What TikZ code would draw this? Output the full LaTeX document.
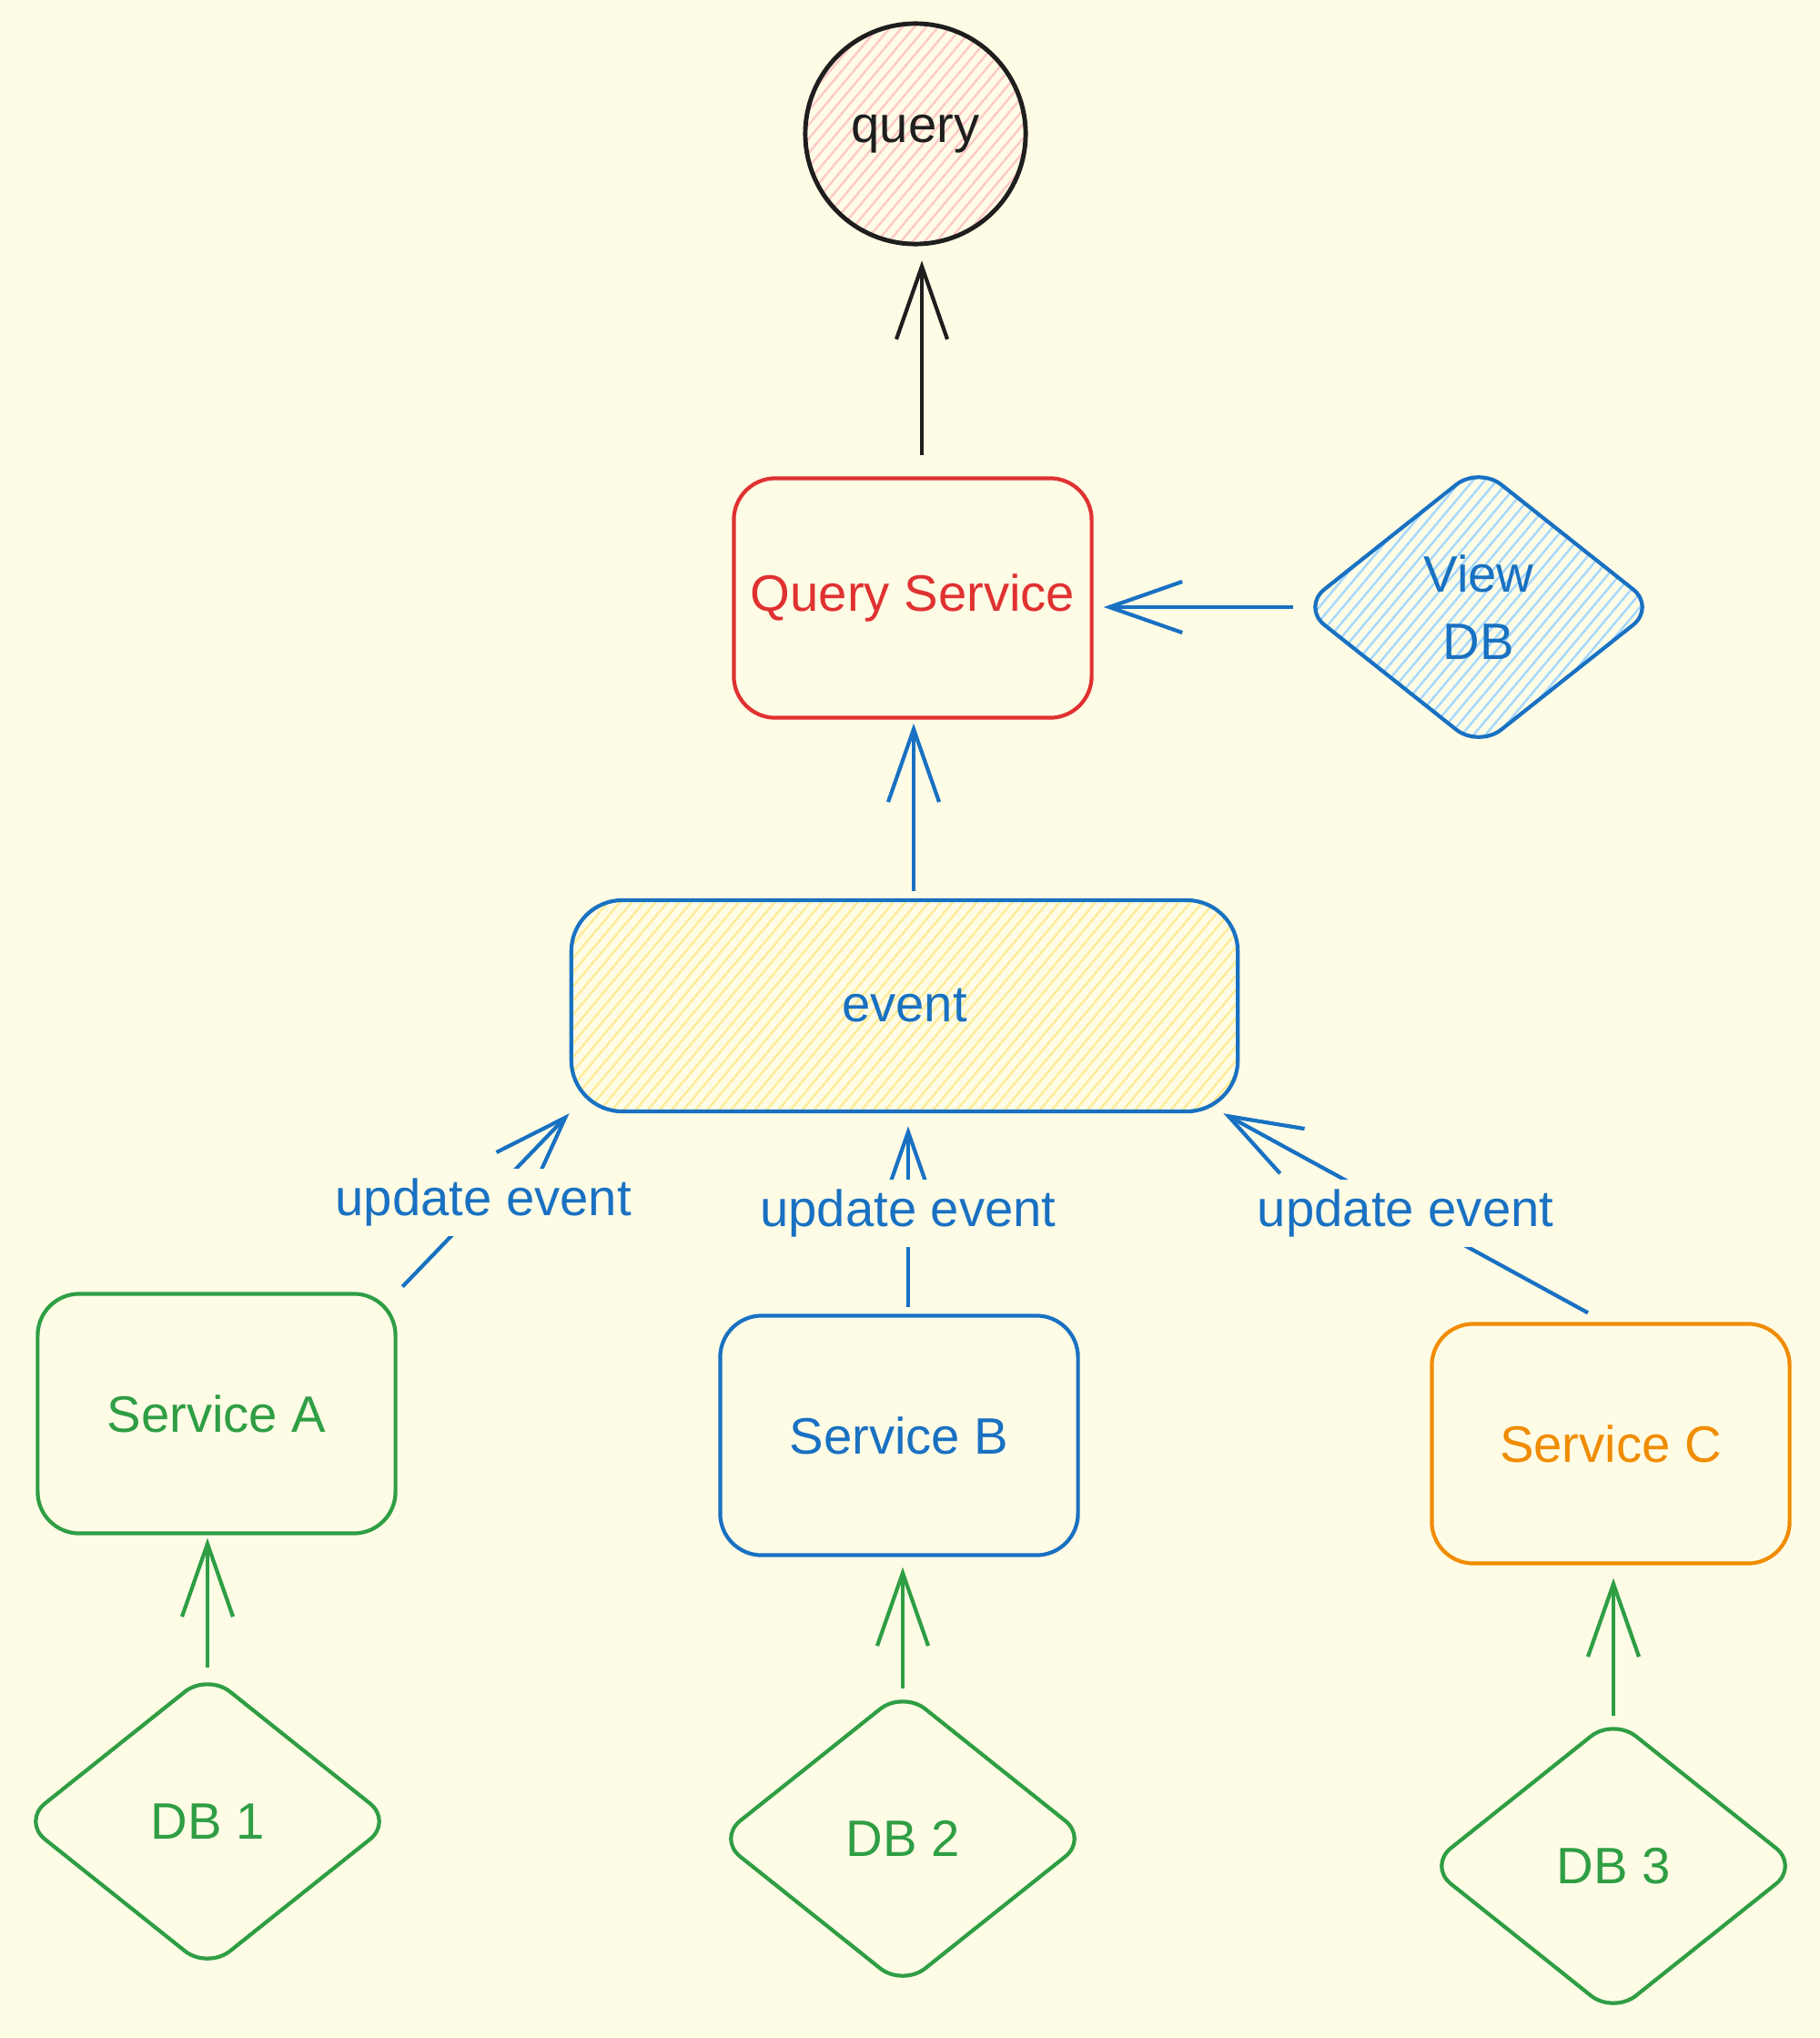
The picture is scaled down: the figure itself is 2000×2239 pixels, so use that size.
\documentclass[tikz,border=0pt]{standalone}
\usepackage{fontspec}
\setmainfont{Liberation Sans}
\usetikzlibrary{shapes.geometric,arrows.meta,positioning,patterns.meta}
\definecolor{paper}{HTML}{FFFCE6}
\definecolor{exblue}{HTML}{1971C2}
\definecolor{exgreen}{HTML}{2F9E44}
\definecolor{exred}{HTML}{E03131}
\definecolor{exorange}{HTML}{F08C00}
\definecolor{exblack}{HTML}{1E1E1E}
\definecolor{hatchred}{HTML}{FFC9C9}
\definecolor{hatchblue}{HTML}{A5D8FF}
\definecolor{hatchyellow}{HTML}{FFEC99}
\newcommand\sketchfont{\fontsize{16}{21}\selectfont}

\begin{document}
\begin{tikzpicture}[
  x=0.01cm, y=-0.01cm,
  font=\sketchfont,
  box/.style={draw, rounded corners=13pt, minimum width=3.93cm,
              minimum height=2.63cm, line width=1.2pt, align=center},
  dbshape/.style={diamond, draw, rounded corners=9pt, minimum width=4.08cm,
                  minimum height=3.26cm, line width=1.2pt, align=center},
  hatch/.style={pattern={Lines[angle=50,distance=0.1cm,line width=0.7pt]},
                pattern color=#1},
  arr/.style={-{Straight Barb[length=0.8cm,width=0.56cm]}, line width=1.2pt},
  tag/.style={fill=paper, inner sep=3pt, text=exblue}
]

% ===== Background =====
\fill[paper] (0,0) rectangle (2000,2239);
\useasboundingbox (0,0) rectangle (2000,2239);

% ===== Top: query + Query Service =====
\node[circle, draw=exblack, line width=1.4pt, minimum size=2.42cm,
      hatch=hatchred, text=exblack] (query) at (1006,147) {query};
\node[box, draw=exred, text=exred] (qsvc) at (1003,657) {Query Service};
\node[dbshape, draw=exblue, text=exblue, hatch=hatchblue,
      minimum width=3.9cm, minimum height=3.1cm] (viewdb) at (1625,667) {View\\DB};

% ===== event =====
\node[box, draw=exblue, text=exblue, minimum width=7.32cm, minimum height=2.32cm,
      rounded corners=16pt, hatch=hatchyellow] (event) at (994,1105) {event};

% ===== Services =====
\node[box, draw=exgreen, text=exgreen] (svca) at (238,1553) {Service A};
\node[box, draw=exblue, text=exblue] (svcb) at (988,1577) {Service B};
\node[box, draw=exorange, text=exorange] (svcc) at (1770,1586) {Service C};

% ===== DBs =====
\node[dbshape, draw=exgreen, text=exgreen] (dba) at (228,2001) {DB 1};
\node[dbshape, draw=exgreen, text=exgreen] (dbb) at (992,2020) {DB 2};
\node[dbshape, draw=exgreen, text=exgreen] (dbc) at (1773,2050) {DB 3};

% ===== Arrows =====
\draw[arr, exblack, shorten <=0.23cm, shorten >=0.17cm]
  ([xshift=0.1cm]qsvc.north) -- ([xshift=0.1cm]qsvc.north |- query.south);
\draw[arr, exblue, shorten <=0.07cm, shorten >=0.11cm]
  (viewdb.west) -- (viewdb.west -| qsvc.east);
\draw[arr, exblue, shorten <=0.08cm, shorten >=0.04cm]
  ([xshift=0.1cm]event.north) -- ([xshift=0.1cm]event.north |- qsvc.south);

\draw[arr, exblue, shorten <=0.08cm]
  (svca.north east) -- node[tag] {update event} (event.south west);
\draw[arr, exblue, shorten <=0.07cm, shorten >=0.14cm]
  ([xshift=0.1cm]svcb.north) -- node[tag] {update event} ([xshift=0.1cm]svcb.north |- event.south);
\draw[arr, exblue]
  ([xshift=-0.25cm, yshift=0.1cm]svcc.north) -- node[tag] {update event} ([xshift=-0.18cm]event.south east);

\draw[arr, exgreen, shorten <=0.04cm, shorten >=0.03cm] (dba.north) -- (dba.north |- svca.south);
\draw[arr, exgreen, shorten >=0.11cm] (dbb.north) -- (dbb.north |- svcb.south);
\draw[arr, exgreen, shorten >=0.14cm] (dbc.north) -- (dbc.north |- svcc.south);

\end{tikzpicture}
\end{document}
